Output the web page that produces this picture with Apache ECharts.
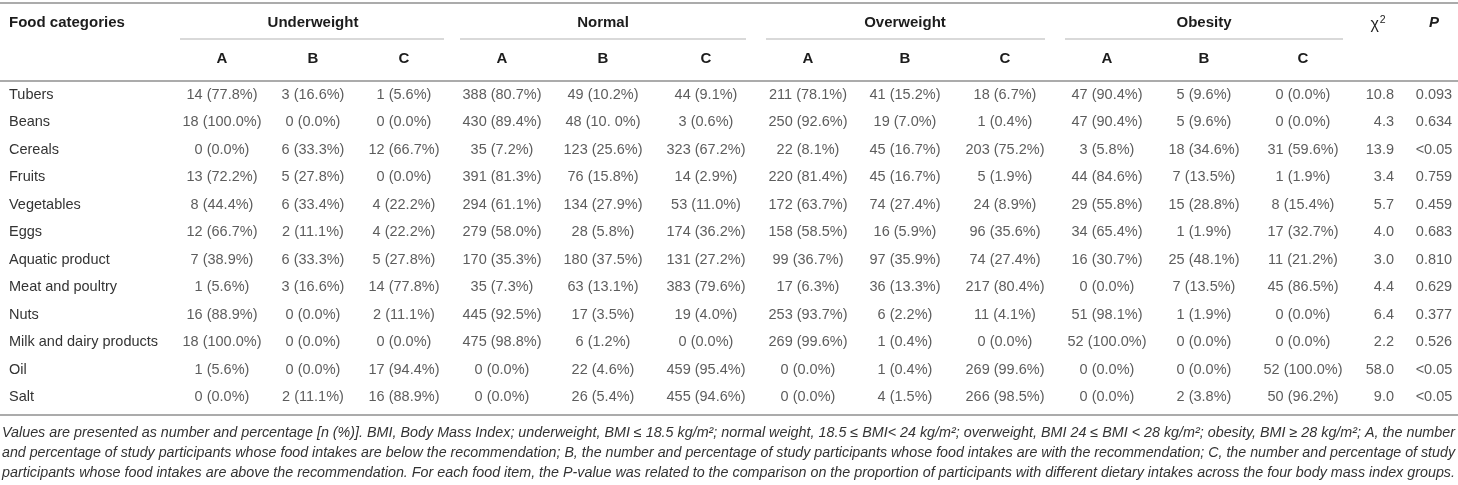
<!DOCTYPE html>
<html><head><meta charset="utf-8">
<script src="https://cdn.jsdelivr.net/npm/echarts@6/dist/echarts.min.js"></script>
<style>html,body{margin:0;padding:0;background:#fff}#c{width:1458px;height:485px}</style>
</head><body><div id="c"></div><script>
// ---------------- data ----------------
const foodCategories = ['Tubers','Beans','Cereals','Fruits','Vegetables','Eggs','Aquatic product','Meat and poultry','Nuts','Milk and dairy products','Oil','Salt'];
const groupNames = ['Underweight','Normal','Overweight','Obesity'];
const subLabels = ['A','B','C'];

const underweightA = ['14 (77.8%)','18 (100.0%)','0 (0.0%)','13 (72.2%)','8 (44.4%)','12 (66.7%)','7 (38.9%)','1 (5.6%)','16 (88.9%)','18 (100.0%)','1 (5.6%)','0 (0.0%)'];
const underweightB = ['3 (16.6%)','0 (0.0%)','6 (33.3%)','5 (27.8%)','6 (33.4%)','2 (11.1%)','6 (33.3%)','3 (16.6%)','0 (0.0%)','0 (0.0%)','0 (0.0%)','2 (11.1%)'];
const underweightC = ['1 (5.6%)','0 (0.0%)','12 (66.7%)','0 (0.0%)','4 (22.2%)','4 (22.2%)','5 (27.8%)','14 (77.8%)','2 (11.1%)','0 (0.0%)','17 (94.4%)','16 (88.9%)'];
const normalA = ['388 (80.7%)','430 (89.4%)','35 (7.2%)','391 (81.3%)','294 (61.1%)','279 (58.0%)','170 (35.3%)','35 (7.3%)','445 (92.5%)','475 (98.8%)','0 (0.0%)','0 (0.0%)'];
const normalB = ['49 (10.2%)','48 (10. 0%)','123 (25.6%)','76 (15.8%)','134 (27.9%)','28 (5.8%)','180 (37.5%)','63 (13.1%)','17 (3.5%)','6 (1.2%)','22 (4.6%)','26 (5.4%)'];
const normalC = ['44 (9.1%)','3 (0.6%)','323 (67.2%)','14 (2.9%)','53 (11.0%)','174 (36.2%)','131 (27.2%)','383 (79.6%)','19 (4.0%)','0 (0.0%)','459 (95.4%)','455 (94.6%)'];
const overweightA = ['211 (78.1%)','250 (92.6%)','22 (8.1%)','220 (81.4%)','172 (63.7%)','158 (58.5%)','99 (36.7%)','17 (6.3%)','253 (93.7%)','269 (99.6%)','0 (0.0%)','0 (0.0%)'];
const overweightB = ['41 (15.2%)','19 (7.0%)','45 (16.7%)','45 (16.7%)','74 (27.4%)','16 (5.9%)','97 (35.9%)','36 (13.3%)','6 (2.2%)','1 (0.4%)','1 (0.4%)','4 (1.5%)'];
const overweightC = ['18 (6.7%)','1 (0.4%)','203 (75.2%)','5 (1.9%)','24 (8.9%)','96 (35.6%)','74 (27.4%)','217 (80.4%)','11 (4.1%)','0 (0.0%)','269 (99.6%)','266 (98.5%)'];
const obesityA = ['47 (90.4%)','47 (90.4%)','3 (5.8%)','44 (84.6%)','29 (55.8%)','34 (65.4%)','16 (30.7%)','0 (0.0%)','51 (98.1%)','52 (100.0%)','0 (0.0%)','0 (0.0%)'];
const obesityB = ['5 (9.6%)','5 (9.6%)','18 (34.6%)','7 (13.5%)','15 (28.8%)','1 (1.9%)','25 (48.1%)','7 (13.5%)','1 (1.9%)','0 (0.0%)','0 (0.0%)','2 (3.8%)'];
const obesityC = ['0 (0.0%)','0 (0.0%)','31 (59.6%)','1 (1.9%)','8 (15.4%)','17 (32.7%)','11 (21.2%)','45 (86.5%)','0 (0.0%)','0 (0.0%)','52 (100.0%)','50 (96.2%)'];
const chiSquare = ['10.8','4.3','13.9','3.4','5.7','4.0','3.0','4.4','6.4','2.2','58.0','9.0'];
const pValues = ['0.093','0.634','<0.05','0.759','0.459','0.683','0.810','0.629','0.377','0.526','<0.05','<0.05'];

const footnoteLines = [
  'Values are presented as number and percentage [n (%)]. BMI, Body Mass Index; underweight, BMI \u2264 18.5 kg/m\u00b2; normal weight, 18.5 \u2264 BMI< 24 kg/m\u00b2; overweight, BMI 24 \u2264 BMI < 28 kg/m\u00b2; obesity, BMI \u2265 28 kg/m\u00b2; A, the number',
  'and percentage of study participants whose food intakes are below the recommendation; B, the number and percentage of study participants whose food intakes are with the recommendation; C, the number and percentage of study',
  'participants whose food intakes are above the recommendation. For each food item, the P-value was related to the comparison on the proportion of participants with different dietary intakes across the four body mass index groups.'
];

// ---------------- layout ----------------
const W = 1458;
const columns = [underweightA, underweightB, underweightC, normalA, normalB, normalC,
                 overweightA, overweightB, overweightC, obesityA, obesityB, obesityC];
const colX = [222, 313, 404, 502, 603, 706, 808, 905, 1005, 1107, 1204, 1303];
const chiRightX = 1394, pX = 1434, chiHeadX = 1378;
const FONT = '"Liberation Sans", Arial, Helvetica, sans-serif';
const TXT = '#333';
const HEAD = '#1c1c1c';
const LINE = '#ababab';

const chart = echarts.init(document.getElementById('c'), null, {renderer: 'canvas'});

function cellSeries(values, x, align) {
  return {
    type: 'scatter', silent: true, symbol: 'rect', symbolSize: 1,
    itemStyle: {color: 'transparent'},
    label: {show: true, position: 'inside', align: align || 'center', verticalAlign: 'middle',
            color: TXT, fontFamily: FONT, fontSize: 14.5,
            formatter: p => p.data.txt},
    emphasis: {disabled: true},
    data: values.map((v, i) => ({value: [x, i], txt: v}))
  };
}

const series = columns.map((vals, j) => cellSeries(vals, colX[j]));
series.push(cellSeries(chiSquare, chiRightX, 'right'));
series.push(cellSeries(pValues, pX));

chart.setOption({
  animation: false,
  backgroundColor: '#fff',
  grid: {left: 0, right: 0, top: 81, height: 330},
  xAxis: {type: 'value', min: 0, max: W, show: false},
  yAxis: {type: 'category', data: foodCategories, inverse: true,
          axisLine: {show: false}, axisTick: {show: false}, splitLine: {show: false},
          axisLabel: {inside: true, margin: 9, color: TXT, fontFamily: FONT, fontSize: 14.5, align: 'left'}},
  series: series
});

// ---------------- header, rules, footnote ----------------
const px = v => chart.convertToPixel({xAxisIndex: 0}, v);
const g = [];
function hline(x1, x2, y, w, c) {
  g.push({type: 'line', silent: true, shape: {x1: x1, y1: y, x2: x2, y2: y},
          style: {stroke: c || LINE, lineWidth: w}});
}
function text(t, x, y, opt) {
  g.push({type: 'text', silent: true, x: x, y: y,
          style: Object.assign({text: t, align: 'center', verticalAlign: 'middle',
                   fontFamily: FONT, fontSize: 15, fontWeight: 'bold', fill: HEAD}, opt || {})});
}
hline(0, W, 3, 2);
hline(0, W, 81, 2);
hline(0, W, 415, 2);

text('Food categories', 9, 23, {align: 'left'});
groupNames.forEach((name, gi) => {
  const a = px(colX[gi * 3]), b = px(colX[gi * 3 + 1]), c = px(colX[gi * 3 + 2]);
  text(name, b, 23);
  hline(a - 42, c + 40, 39, 1.2, '#b4b4b4');
  subLabels.forEach((s, k) => text(s, px(colX[gi * 3 + k]), 59));
});
// chi-square header with a raised superscript 2
text('{c|\u03c7}{s|2}', px(chiHeadX), 24, {
  fontWeight: 'normal',
  rich: {
    c: {fontFamily: FONT, fontSize: 16, fill: HEAD, lineHeight: 18, verticalAlign: 'bottom'},
    s: {fontFamily: FONT, fontSize: 10.5, fill: HEAD, lineHeight: 18, verticalAlign: 'top', padding: [0, 0, 0, 1]}
  }
});
text('P', px(pX), 23, {fontStyle: 'italic'});

// footnote, each line stretched to the full width (justified look)
const ctx = document.createElement('canvas').getContext('2d');
const fnSize = 14;
ctx.font = 'italic ' + fnSize + 'px ' + FONT;
footnoteLines.forEach((line, i) => {
  const w = ctx.measureText(line).width;
  const target = W - 5;
  g.push({type: 'text', silent: true, x: 2, y: 433 + i * 20, scaleX: target / w,
          style: {text: line, align: 'left', verticalAlign: 'middle', fontFamily: FONT,
                  fontSize: fnSize, fontStyle: 'italic', fill: TXT}});
});

chart.setOption({graphic: {elements: g}});
</script></body></html>
